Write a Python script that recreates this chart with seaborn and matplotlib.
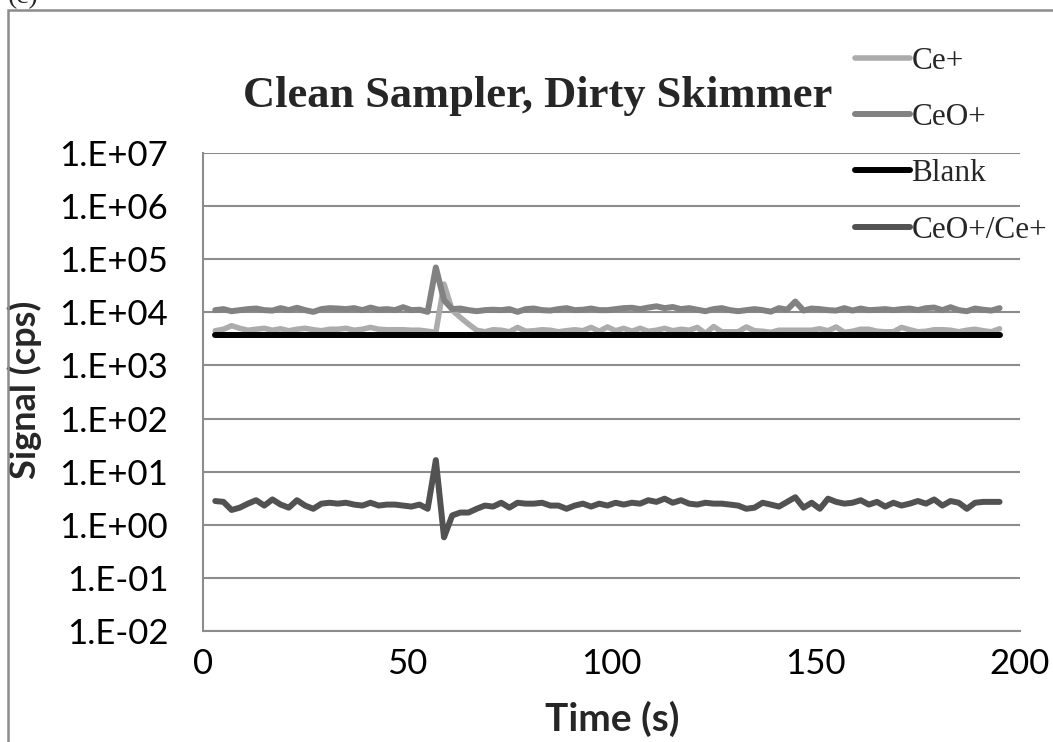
import numpy as np
import pandas as pd
import matplotlib
matplotlib.use("Agg")
import matplotlib.pyplot as plt
import seaborn as sns
from matplotlib.patches import Rectangle

# ---------------- data ----------------
time_start, time_stop, time_step = 3, 196, 2

ce_plus = [  # cps /1e3
    4.5, 4.8, 5.6, 5.0, 4.6, 4.8, 5.0, 4.6, 4.9, 4.5,
    4.8, 5.0, 4.7, 4.5, 4.8, 4.8, 5.0, 4.6, 4.8, 5.2,
    4.8, 4.7, 4.7, 4.7, 4.6, 4.6, 4.4, 4.2, 34.0, 11.0,
    8.0, 6.0, 4.6, 4.3, 4.7, 4.6, 4.3, 5.2, 4.4, 4.5,
    4.7, 4.6, 4.3, 4.5, 4.7, 4.5, 5.2, 4.4, 5.3, 4.5,
    5.0, 4.4, 5.0, 4.4, 4.6, 5.0, 4.5, 4.8, 4.6, 5.2,
    4.0, 5.4, 4.3, 4.3, 4.3, 5.3, 4.5, 4.4, 4.2, 4.6,
    4.6, 4.6, 4.6, 4.6, 4.9, 4.5, 5.3, 4.2, 4.4, 4.8,
    4.8, 4.4, 4.3, 4.3, 5.2, 4.7, 4.3, 4.4, 4.7, 4.7,
    4.6, 4.3, 4.6, 4.8, 4.5, 4.3, 4.9,
]
ceo_plus = [  # cps /1e3
    11.0, 11.5, 10.5, 11.0, 11.5, 11.8, 11.0, 10.8, 12.0, 11.0,
    12.2, 11.0, 10.2, 11.5, 12.0, 11.8, 11.5, 12.0, 11.0, 12.3,
    11.2, 11.5, 11.0, 12.5, 11.0, 11.2, 10.2, 70.0, 17.0, 11.5,
    11.8, 11.0, 10.5, 11.0, 11.2, 11.0, 11.5, 10.2, 11.5, 11.8,
    11.0, 10.8, 11.5, 12.0, 11.0, 11.2, 11.8, 11.0, 11.0, 11.5,
    12.0, 12.2, 11.5, 12.3, 13.0, 12.0, 12.6, 11.5, 12.0, 11.2,
    10.5, 11.5, 12.0, 11.0, 10.5, 11.0, 11.5, 11.0, 10.3, 12.0,
    11.2, 16.0, 10.8, 11.8, 11.5, 11.0, 10.8, 12.0, 10.8, 11.8,
    11.0, 11.2, 11.5, 11.0, 11.5, 11.8, 11.0, 12.0, 12.3, 11.0,
    12.5, 11.0, 10.5, 11.8, 11.2, 10.8, 12.0,
]
blank_level = 3.8  # cps /1e3
ratio = [
    2.8, 2.7, 1.9, 2.1, 2.5, 2.9, 2.3, 3.0, 2.4, 2.1,
    2.9, 2.3, 2.0, 2.5, 2.6, 2.5, 2.6, 2.4, 2.3, 2.6,
    2.3, 2.4, 2.4, 2.3, 2.2, 2.4, 2.0, 16.5, 0.58, 1.5,
    1.7, 1.7, 2.0, 2.3, 2.2, 2.6, 2.1, 2.6, 2.5, 2.5,
    2.6, 2.3, 2.3, 2.0, 2.3, 2.5, 2.2, 2.5, 2.3, 2.6,
    2.4, 2.6, 2.5, 2.9, 2.7, 3.1, 2.6, 2.9, 2.5, 2.4,
    2.6, 2.5, 2.5, 2.4, 2.3, 2.0, 2.1, 2.6, 2.4, 2.2,
    2.7, 3.3, 2.1, 2.6, 2.0, 3.1, 2.7, 2.5, 2.6, 2.9,
    2.4, 2.7, 2.2, 2.6, 2.3, 2.5, 2.8, 2.5, 3.0, 2.3,
    2.8, 2.6, 2.0, 2.6, 2.7, 2.7, 2.7,
]
series_names = ["Ce+", "CeO+", "Blank", "CeO+/Ce+"]
y_ticks = [1e-2, 1e-1, 1e0, 1e1, 1e2, 1e3, 1e4, 1e5, 1e6, 1e7]
y_tick_labels = ["1.E-02", "1.E-01", "1.E+00", "1.E+01", "1.E+02",
                 "1.E+03", "1.E+04", "1.E+05", "1.E+06", "1.E+07"]
x_ticks = [0, 50, 100, 150, 200]
title = "Clean Sampler, Dirty Skimmer"

t = np.arange(time_start, time_stop, time_step)
n = len(t)
df = pd.DataFrame({
    "t": t,
    "Ce+": np.array(ce_plus[:n]) * 1e3,
    "CeO+": np.array(ceo_plus[:n]) * 1e3,
    "Blank": np.full(n, blank_level * 1e3),
    "CeO+/Ce+": np.array(ratio[:n]),
})

# ---------------- style ----------------
sns.set_theme(style="white")
plt.rcParams["font.family"] = ["Lato", "DejaVu Sans"]
serif = ["Liberation Serif", "DejaVu Serif"]

colors = {"Ce+": "#acacac", "CeO+": "#828282", "Blank": "#000000", "CeO+/Ce+": "#525252"}
widths = {"Ce+": 4.0, "CeO+": 4.3, "Blank": 4.3, "CeO+/Ce+": 4.3}

fig = plt.figure(figsize=(10.53, 7.42), dpi=100)
ax = fig.add_axes([203 / 1053, 1 - 631 / 742, (1020 - 203) / 1053, (631 - 153) / 742])

for name in series_names:
    sns.lineplot(data=df, x="t", y=name, ax=ax, color=colors[name],
                 linewidth=widths[name], label=name, solid_capstyle="round",
                 solid_joinstyle="round")

ax.set_yscale("log")
ax.set_ylim(1e-2, 1e7)
ax.set_xlim(0, 200)
ax.set_yticks(y_ticks)
ax.set_yticklabels(y_tick_labels)
ax.minorticks_off()
ax.set_xticks(x_ticks)
ax.tick_params(axis="both", length=0, labelsize=25, colors="black")
ax.tick_params(axis="x", pad=12)
ax.tick_params(axis="y", pad=25)

ax.yaxis.grid(True, color="#8c8c8c", linewidth=1.5)
ax.xaxis.grid(False)
for s in ["top", "right"]:
    ax.spines[s].set_visible(False)
ax.spines["left"].set_color("#8c8c8c")
ax.spines["left"].set_linewidth(1.5)
ax.spines["bottom"].set_color("#8c8c8c")
ax.spines["bottom"].set_linewidth(1.5)
ax.set_axisbelow(True)

ax.set_xlabel("Time (s)", fontsize=28, fontweight="bold", va="center")
ax.xaxis.set_label_coords((612 - 203) / 817, (631 - 719) / 478)
ax.set_ylabel("Signal (cps)", fontsize=26, fontweight="bold", va="center")
ax.yaxis.set_label_coords((25 - 203) / 817, (631 - 390) / 478)

fig.text(538 / 1053, 1 - 96 / 742, title, fontsize=32, fontweight="bold",
         family=serif, ha="center", va="center")

leg = ax.legend(loc="upper left", bbox_to_anchor=(855 / 1053, 1 - 47 / 742),
                bbox_transform=fig.transFigure, frameon=False,
                prop={"family": serif, "size": 22.5},
                handlelength=1.76, handletextpad=0.05, labelspacing=0.87,
                borderpad=0, borderaxespad=0)

# outer chart frame (partially cropped) and panel label
fig.patches.append(Rectangle((8 / 1053, -0.2), 1.2, 1.2 - 10 / 742,
                             transform=fig.transFigure, fill=False,
                             edgecolor="#8c8c8c", linewidth=1.8))
fig.text(8 / 1053, 1 + 16 / 742, "(c)", fontsize=20,
         family=serif, ha="left", va="top")

fig.savefig("out.png", dpi=100)
